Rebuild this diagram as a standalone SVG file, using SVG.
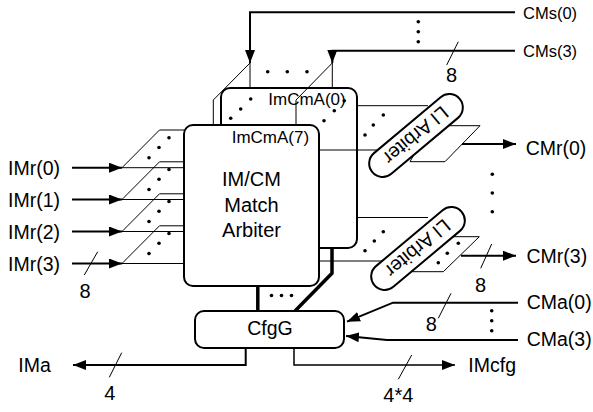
<svg xmlns="http://www.w3.org/2000/svg" width="593" height="412" viewBox="0 0 593 412">
<defs>
<style>
.box{fill:#fff;stroke:#000;stroke-width:2}
.thin{fill:none;stroke:#000;stroke-width:1}
.sig{fill:none;stroke:#000;stroke-width:2}
.thick{fill:none;stroke:#000;stroke-width:3.5}
.pg{fill:#fff;stroke:#000;stroke-width:1}
.dot{fill:#000}
text{font-family:"Liberation Sans",Arial,sans-serif;fill:#000}
.lbl{font-size:19.5px}
.num{font-size:20px;text-anchor:middle}
.sm{font-size:16.5px}
.mid{text-anchor:middle}
</style>
<marker id="ah" markerWidth="13" markerHeight="10" refX="13" refY="5" orient="auto" markerUnits="userSpaceOnUse"><path d="M0,0 L13,5 L0,10 Z" fill="#000"/></marker>
</defs>
<g id="back-arbiter">
<rect class="box" x="221" y="88" width="136" height="160" rx="9"/>
<text class="sm" x="268.3" y="105" style="font-size:17px">ImCmA(0)</text>
</g>
<g id="connectors">
<path class="sig" d="M515,12.3 H250 V63" marker-end="url(#ah)"/>
<path class="sig" d="M515,50.7 H332.3 V63" marker-end="url(#ah)"/>
<path class="thin" d="M250,63 V88 M250,63 L213.3,100 V125"/>
<path class="thin" d="M332.3,63 V88 M332.3,63 L296,100 V125"/>
<path class="thin" d="M458.3,41.7 L446.7,65"/>
<path class="thin" d="M357,105.7 H428 M319,150 H390"/>
<path class="thin" d="M357,217.5 H428 M319,261 H390"/>
<path class="sig" d="M72,167.7 H122" marker-end="url(#ah)"/>
<path class="sig" d="M72,199.5 H122" marker-end="url(#ah)"/>
<path class="sig" d="M72,231.5 H122" marker-end="url(#ah)"/>
<path class="sig" d="M72,263.5 H122" marker-end="url(#ah)"/>
<path class="thin" d="M122,167.7 L159.5,130 H184 M122,167.7 H184"/>
<path class="thin" d="M122,199.5 L159.5,161.8 H184 M122,199.5 H184"/>
<path class="thin" d="M122,231.5 L159.5,193.8 H184 M122,231.5 H184"/>
<path class="thin" d="M122,263.5 L159.5,225.8 H184 M122,263.5 H184"/>
<path class="thin" d="M97.7,251.7 L84.3,275"/>
<path class="thick" d="M257.8,285 V311"/>
<path class="thick" d="M332,248 V273.3 L295,311"/>
<path class="pg" d="M430,125.7 H480 L445,161.7 H410 Z"/>
<path class="pg" d="M430,236.7 H479.3 L443.3,271.7 H410 Z"/>
<path class="sig" d="M462,144 H516" marker-end="url(#ah)"/>
<path class="sig" d="M461,255.7 H516" marker-end="url(#ah)"/>
<path class="thin" d="M491.7,244 L480.7,268.3"/>
<path class="sig" d="M518,302.7 H393 L347,321.7" marker-end="url(#ah)"/>
<path class="sig" d="M518,340 H387 L346,336" marker-end="url(#ah)"/>
<path class="thin" d="M451,293.3 L438.3,318.3"/>
<path class="sig" d="M245.7,348 V365 H73" marker-end="url(#ah)"/>
<path style="fill:none;stroke:#000;stroke-width:1.5" d="M294,348 V365 H455" marker-end="url(#ah)"/>
<path class="thin" d="M121.7,352.7 L109.3,377.3"/>
<path class="thin" d="M411.7,355 L398.3,379.3"/>
</g>
<g id="dots">
<circle class="dot" cx="230.7" cy="118.3" r="1.8"/><circle class="dot" cx="240.7" cy="109" r="1.8"/><circle class="dot" cx="250.7" cy="99" r="1.8"/>
<circle class="dot" cx="324" cy="120.7" r="1.8"/><circle class="dot" cx="334.3" cy="110.7" r="1.8"/><circle class="dot" cx="344.3" cy="100.7" r="1.8"/>
<circle class="dot" cx="267.7" cy="71.7" r="1.8"/><circle class="dot" cx="287.3" cy="71.7" r="1.8"/><circle class="dot" cx="307" cy="71.7" r="1.8"/>
<circle class="dot" cx="418.3" cy="21.7" r="1.8"/><circle class="dot" cx="418.3" cy="31.7" r="1.8"/><circle class="dot" cx="418.3" cy="41.7" r="1.8"/>
<circle class="dot" cx="365" cy="135" r="1.8"/><circle class="dot" cx="373.3" cy="125" r="1.8"/><circle class="dot" cx="383.3" cy="115" r="1.8"/>
<circle class="dot" cx="365" cy="250.7" r="1.8"/><circle class="dot" cx="374.3" cy="241" r="1.8"/><circle class="dot" cx="383.3" cy="231.7" r="1.8"/>
<circle class="dot" cx="458.3" cy="243.3" r="1.8"/><circle class="dot" cx="447.3" cy="253.3" r="1.8"/><circle class="dot" cx="438.3" cy="262.7" r="1.8"/>
<circle class="dot" cx="492.3" cy="174.3" r="1.8"/><circle class="dot" cx="492.3" cy="193" r="1.8"/><circle class="dot" cx="492.3" cy="211.7" r="1.8"/>
<circle class="dot" cx="491.7" cy="310.7" r="1.8"/><circle class="dot" cx="491.7" cy="320.7" r="1.8"/><circle class="dot" cx="491.7" cy="330.7" r="1.8"/>
<circle class="dot" cx="271.5" cy="295.5" r="1.8"/><circle class="dot" cx="281.5" cy="295.5" r="1.8"/><circle class="dot" cx="291.5" cy="295.5" r="1.8"/>
<circle class="dot" cx="149" cy="157.7" r="1.8"/><circle class="dot" cx="159" cy="147.5" r="1.8"/><circle class="dot" cx="169" cy="137.7" r="1.8"/>
<circle class="dot" cx="149" cy="189.5" r="1.8"/><circle class="dot" cx="159" cy="179.3" r="1.8"/><circle class="dot" cx="169" cy="169.5" r="1.8"/>
<circle class="dot" cx="149" cy="221.5" r="1.8"/><circle class="dot" cx="159" cy="211.3" r="1.8"/><circle class="dot" cx="169" cy="201.5" r="1.8"/>
<circle class="dot" cx="149" cy="253.5" r="1.8"/><circle class="dot" cx="159" cy="243.3" r="1.8"/><circle class="dot" cx="169" cy="233.5" r="1.8"/>
</g>
<g id="front-arbiter">
<rect class="box" x="184" y="125" width="135" height="161" rx="9"/>
<text x="231.7" y="143.3" style="font-size:17px">ImCmA(7)</text>
<text class="mid" x="251.5" y="186" style="font-size:20px">IM/CM</text>
<text class="mid" x="251.5" y="211.7" style="font-size:20px">Match</text>
<text class="mid" x="251.5" y="236.7" style="font-size:20px">Arbiter</text>
</g>
<g id="li-arbiter-0" transform="translate(416,135.5) rotate(140)">
<rect class="box" x="-57" y="-13.5" width="114" height="27" rx="13.5"/>
<text class="mid" x="0" y="7" style="font-size:19.5px">LI Arbiter</text>
</g>
<g id="li-arbiter-3" transform="translate(418,248.5) rotate(140)">
<rect class="box" x="-57" y="-13.5" width="114" height="27" rx="13.5"/>
<text class="mid" x="0" y="7" style="font-size:19.5px">LI Arbiter</text>
</g>
<g id="cfgg">
<rect class="box" x="195" y="311" width="149" height="37" rx="9"/>
<text class="mid" x="270" y="335" style="font-size:19.5px">CfgG</text>
</g>
<g id="labels">
<text class="sm" x="523" y="18.5">CMs(0)</text>
<text class="sm" x="523" y="57">CMs(3)</text>
<text class="num" x="451.5" y="82">8</text>
<text class="lbl" x="8" y="175">IMr(0)</text>
<text class="lbl" x="8" y="206.7">IMr(1)</text>
<text class="lbl" x="8" y="238.5">IMr(2)</text>
<text class="lbl" x="8" y="270.7">IMr(3)</text>
<text class="num" x="85" y="298">8</text>
<text class="lbl" x="525.7" y="155">CMr(0)</text>
<text class="lbl" x="526.5" y="262.5">CMr(3)</text>
<text class="num" x="480.5" y="292">8</text>
<text class="lbl" x="526.7" y="308.5">CMa(0)</text>
<text class="lbl" x="526.7" y="346">CMa(3)</text>
<text class="num" x="431.3" y="330.7">8</text>
<text class="lbl" x="18.3" y="371.7">IMa</text>
<text class="num" x="109.7" y="400">4</text>
<text class="lbl" x="468.3" y="372.3">IMcfg</text>
<text class="num" x="398.3" y="402">4*4</text>
</g>
</svg>
